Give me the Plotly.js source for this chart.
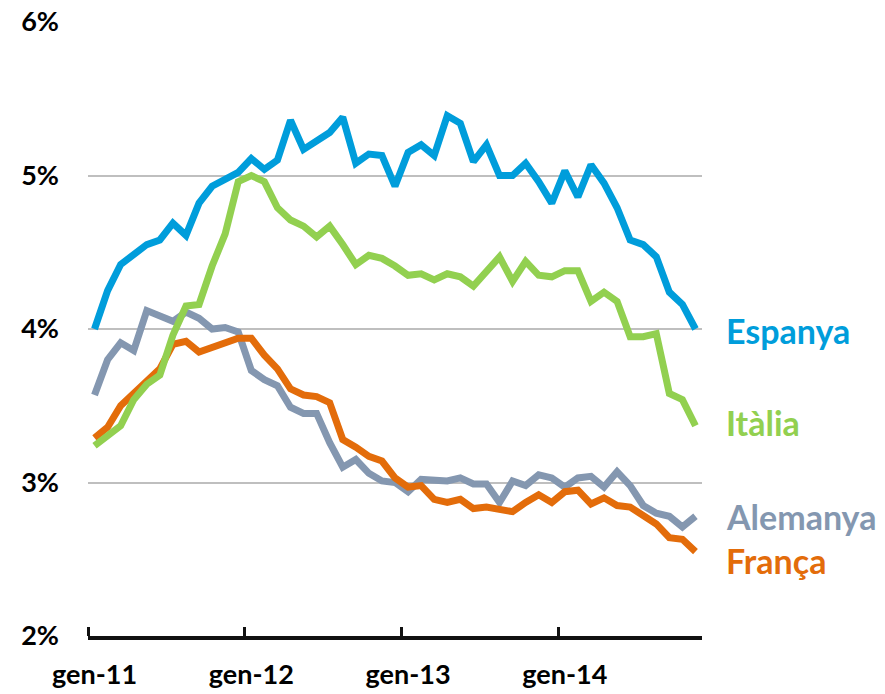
<!DOCTYPE html>
<html>
<head>
<meta charset="utf-8">
<script src="https://cdn.plot.ly/plotly-3.0.1.min.js"></script>
<style>
  html, body { margin: 0; padding: 0; background: #fff; }
  #chart { width: 885px; height: 694px; }
</style>
</head>
<body>
<div id="chart"></div>
<script>
// Monthly values, gen-11 .. nov-14 (%)
const espanya = [4.00, 4.25, 4.42, 4.49, 4.55, 4.58, 4.69, 4.61, 4.82, 4.93, 4.97, 5.02,
                 5.11, 5.04, 5.10, 5.36, 5.17, 5.23, 5.28, 5.38, 5.08, 5.14, 5.13, 4.93,
                 5.15, 5.20, 5.13, 5.39, 5.34, 5.09, 5.20, 5.00, 5.00, 5.08, 4.96, 4.82,
                 5.03, 4.86, 5.07, 4.95, 4.79, 4.58, 4.55, 4.47, 4.24, 4.16, 4.00];
const italia = [3.24, 3.31, 3.37, 3.54, 3.64, 3.70, 3.96, 4.15, 4.16, 4.41, 4.62, 4.96,
                5.00, 4.96, 4.79, 4.71, 4.67, 4.60, 4.67, 4.55, 4.42, 4.48, 4.46, 4.41,
                4.35, 4.36, 4.32, 4.36, 4.34, 4.28, 4.37, 4.47, 4.31, 4.44, 4.35, 4.34,
                4.38, 4.38, 4.18, 4.24, 4.18, 3.95, 3.95, 3.97, 3.58, 3.54, 3.37];
const alemanya = [3.57, 3.80, 3.91, 3.86, 4.12, 4.08, 4.05, 4.11, 4.07, 4.00, 4.01, 3.98,
                  3.73, 3.67, 3.63, 3.49, 3.45, 3.45, 3.26, 3.10, 3.15, 3.06, 3.01, 3.00,
                  2.94, 3.02, 3.01, 3.01, 3.03, 2.99, 2.99, 2.87, 3.01, 2.98, 3.05, 3.03,
                  2.97, 3.03, 3.04, 2.97, 3.07, 2.98, 2.85, 2.80, 2.78, 2.71, 2.78];
const franca = [3.29, 3.36, 3.50, 3.58, 3.67, 3.74, 3.90, 3.92, 3.85, 3.88, 3.91, 3.94,
                3.94, 3.83, 3.74, 3.61, 3.57, 3.56, 3.52, 3.28, 3.23, 3.17, 3.14, 3.03,
                2.97, 2.98, 2.89, 2.87, 2.89, 2.83, 2.84, 2.83, 2.81, 2.87, 2.92, 2.87,
                2.94, 2.95, 2.86, 2.90, 2.85, 2.84, 2.79, 2.73, 2.64, 2.63, 2.55];

const tickPositions = [0, 12, 24, 36];
const tickLabels = ['gen-11', 'gen-12', 'gen-13', 'gen-14'];
const yTicks = [2, 3, 4, 5, 6];

const seriesNames = ['Espanya', 'Alemanya', 'França', 'Itàlia'];
const seriesData = [espanya, alemanya, franca, italia];
const seriesColors = ['#009DDB', '#8497B0', '#E36C0A', '#92D050'];
const labelY = [3.99, 2.78, 2.49, 3.39];

const months = espanya.map((_, i) => i);

const FONT = 'Lato, "Open Sans", sans-serif';

const traces = seriesData.map((vals, k) => ({
  type: 'scatter',
  mode: 'lines',
  name: seriesNames[k],
  x: months,
  y: vals,
  line: { color: seriesColors[k], width: 7, shape: 'linear' },
  hoverinfo: 'skip'
}));

const annotations = seriesNames.map((n, k) => ({
  xref: 'paper', yref: 'y',
  x: 1.036, y: labelY[k],
  xanchor: 'left', yanchor: 'middle',
  text: '<b>' + n + '</b>',
  showarrow: false,
  font: { family: FONT, size: 34, color: seriesColors[k] }
}));

const layout = {
  width: 885, height: 694,
  margin: { l: 88, r: 183, t: 22, b: 58 },
  paper_bgcolor: '#ffffff',
  plot_bgcolor: '#ffffff',
  showlegend: false,
  xaxis: {
    range: [-0.5, 46.5],
    tickmode: 'array',
    tickvals: tickPositions,
    ticktext: tickLabels.map(t => '<b>' + t + '</b>'),
    ticks: '',
    showgrid: false,
    zeroline: false,
    showline: true,
    linecolor: '#111111',
    linewidth: 4,
    tickfont: { family: FONT, size: 27, color: '#000' },
    ticklabelstandoff: 12,
    minor: { tickmode: 'linear', tick0: -0.5, dtick: 12, ticks: 'inside', ticklen: 9, tickwidth: 3, tickcolor: '#111111', showgrid: false }
  },
  yaxis: {
    range: [2, 6],
    tickmode: 'array',
    tickvals: yTicks,
    ticktext: yTicks.map(v => '<b>' + v + '%</b>'),
    ticks: '',
    showgrid: true,
    gridcolor: '#BFBFBF',
    gridwidth: 2,
    zeroline: false,
    showline: false,
    tickfont: { family: FONT, size: 27, color: '#000' },
    ticklabelstandoff: 28
  },
  annotations: annotations
};

Plotly.newPlot('chart', traces, layout, { displayModeBar: false, staticPlot: true });
</script>
</body>
</html>
